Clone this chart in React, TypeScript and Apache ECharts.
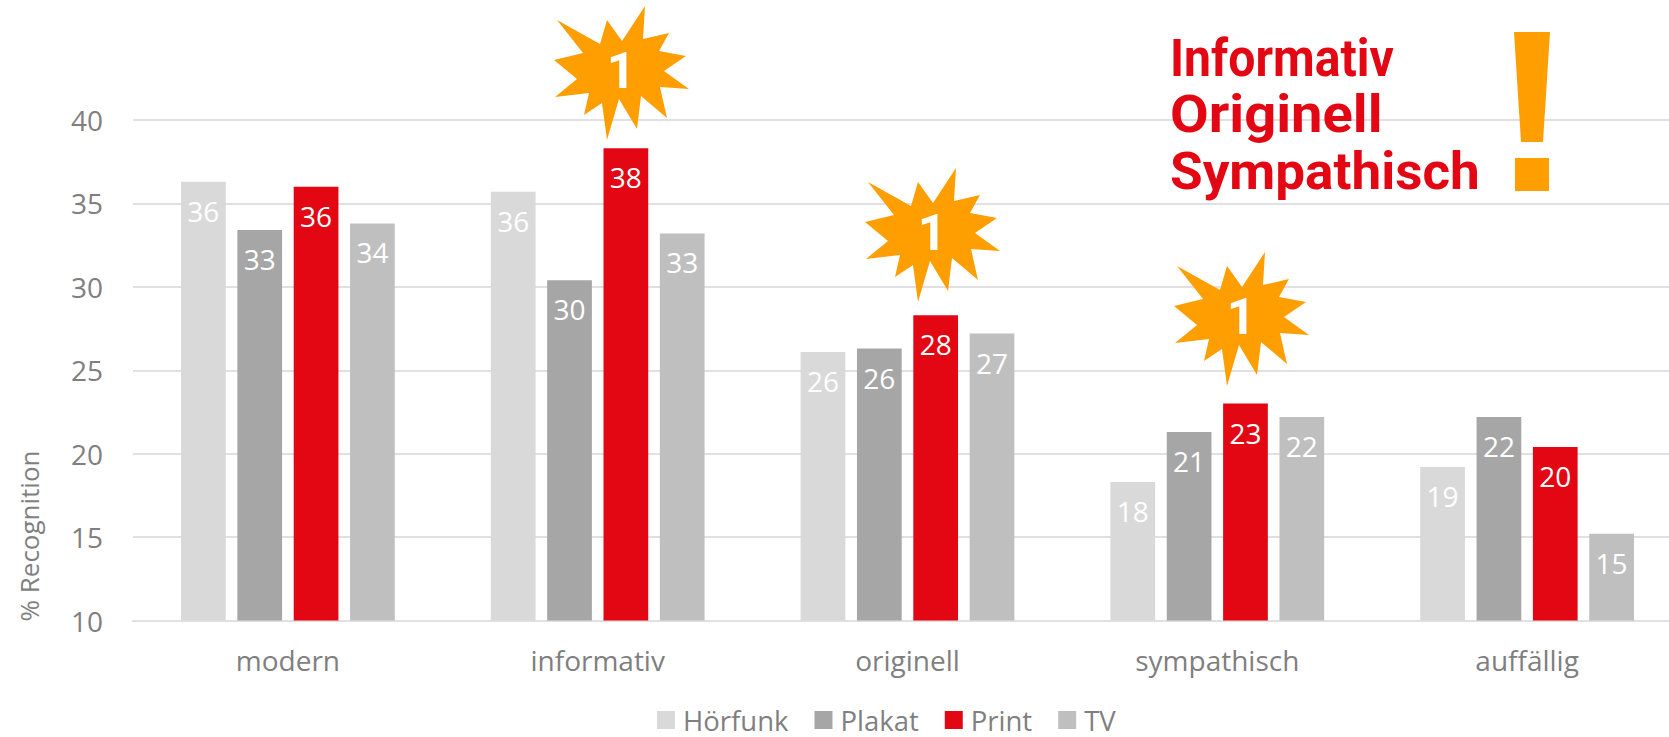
import React, { useEffect, useRef } from "react";
import * as echarts from "echarts";

const categories = ["modern", "informativ", "originell", "sympathisch", "auffällig"];
const hoerfunk = [36.3, 35.7, 26.1, 18.3, 19.2];
const plakat = [33.4, 30.4, 26.3, 21.3, 22.2];
const print = [36.0, 38.3, 28.3, 23.0, 20.4];
const tv = [33.8, 33.2, 27.2, 22.2, 15.2];
const headlineLines = ["Informativ", "Originell", "Sympathisch"];
const headlineStretch = [0.925, 1.08, 1.02];

const GREY_TEXT = "#7F7F7F";
const ORANGE = "#FF9E00";
const RED = "#E30613";
const FONT = '"Open Sans", sans-serif';

// Outline of the burst badge, relative to its centre.
const burstOutline: number[][] = [
  [-64, -51], [-21, -27], [-14, -51], [1, -30], [24, -65], [22, -32], [48, -38], [38, -20],
  [65, -15], [43, 0], [68, 18], [39, 16], [46, 47], [20, 25], [16, 58], [-2, 28],
  [-14, 69], [-19, 32], [-37, 44], [-32, 22], [-66, 26], [-44, 8], [-67, -11], [-38, -18],
];
const burstCentres: number[][] = [[621, 71], [932, 233], [1241, 317]];

function burst(centre: number[]) {
  return {
    type: "group",
    x: centre[0],
    y: centre[1],
    z: 20,
    children: [
      { type: "polygon", shape: { points: burstOutline }, style: { fill: ORANGE }, z: 20 },
      {
        type: "text",
        x: 0,
        y: 0,
        z: 21,
        style: {
          text: "1",
          fill: "#FFFFFF",
          font: "700 50px Roboto, sans-serif",
          align: "center",
          verticalAlign: "middle",
        },
      },
    ],
  };
}

function barSeries(name: string, data: number[], color: string) {
  return {
    name,
    type: "bar",
    data,
    barGap: "26%",
    barCategoryGap: "31%",
    itemStyle: { color },
    label: {
      show: true,
      position: "insideTop",
      distance: 15,
      color: "#FFFFFF",
      fontFamily: FONT,
      fontSize: 28,
      formatter: (p: any) => Number(p.value).toFixed(0),
    },
  };
}

export default function App() {
  const ref = useRef<HTMLDivElement>(null);

  useEffect(() => {
    const chart = echarts.init(ref.current!, undefined, { renderer: "svg" });
    chart.setOption({
      animation: false,
      backgroundColor: "#FFFFFF",
      // The last category's slot runs past the right edge, so the grid keeps a fixed width.
      grid: { left: 133, top: 120, width: 1549, height: 500.5, outerBoundsMode: "none" },
      legend: {
        left: 657,
        top: 705,
        padding: 0,
        icon: "rect",
        itemWidth: 18,
        itemHeight: 18,
        itemGap: 26,
        textStyle: {
          color: GREY_TEXT,
          fontFamily: FONT,
          fontSize: 27.5,
          lineHeight: 30,
          padding: [0, 0, 0, 3],
        },
      },
      xAxis: {
        type: "category",
        data: categories,
        axisLine: { lineStyle: { color: "#E0E0E0", width: 2 } },
        axisTick: { show: false },
        axisLabel: { color: GREY_TEXT, fontFamily: FONT, fontSize: 28, margin: 25 },
      },
      yAxis: {
        type: "value",
        min: 10,
        max: 40,
        interval: 5,
        axisLine: { show: false },
        axisTick: { show: false },
        splitLine: { lineStyle: { color: "#E0E0E0", width: 2 } },
        axisLabel: {
          color: GREY_TEXT,
          fontFamily: FONT,
          fontSize: 28,
          margin: 30,
          padding: [0, 0, 2, 0],
        },
      },
      series: [
        barSeries("Hörfunk", hoerfunk, "#D9D9D9"),
        barSeries("Plakat", plakat, "#A6A6A6"),
        barSeries("Print", print, RED),
        barSeries("TV", tv, "#BFBFBF"),
      ],
      graphic: [
        {
          type: "text",
          x: 29,
          y: 536,
          rotation: Math.PI / 2,
          style: {
            text: "% Recognition",
            fill: GREY_TEXT,
            font: `26px ${FONT}`,
            align: "center",
            verticalAlign: "middle",
          },
        },
        ...burstCentres.map(burst),
        ...headlineLines.map((line, i) => ({
          type: "text",
          x: 1170,
          y: 58 + i * 56.5,
          scaleX: headlineStretch[i],
          z: 20,
          style: {
            text: line,
            fill: RED,
            font: "700 52px Roboto, sans-serif",
            align: "left",
            verticalAlign: "middle",
          },
        })),
        {
          type: "polygon",
          z: 20,
          shape: { points: [[1514, 32], [1550, 32], [1543, 142], [1521, 142]] },
          style: { fill: ORANGE },
        },
        {
          type: "rect",
          z: 20,
          shape: { x: 1515, y: 158, width: 34, height: 33 },
          style: { fill: ORANGE },
        },
      ],
    });
    return () => chart.dispose();
  }, []);

  return <div ref={ref} style={{ position: "fixed", left: 0, top: 0, width: 1669, height: 737 }} />;
}
